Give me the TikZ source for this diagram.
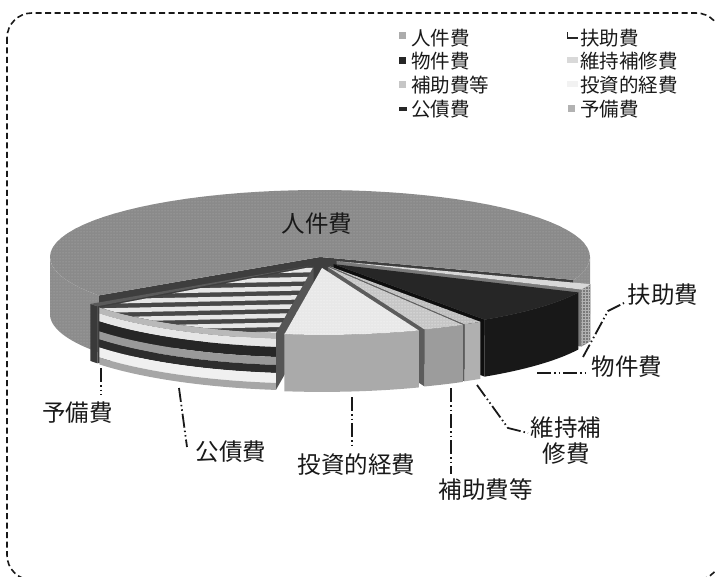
\documentclass[tikz,border=0pt]{standalone}
\usepackage{fontspec}
\newfontfamily\jp{Noto Sans CJK JP}
\usetikzlibrary{patterns}
\definecolor{jkTop}{HTML}{8A8A8A}
\definecolor{jkDot}{HTML}{B2B2B2}
\definecolor{jkWall}{HTML}{8C8C8C}
\definecolor{sideC}{HTML}{3E3E3E}
\definecolor{koSide}{HTML}{555555}
\definecolor{fuTop}{HTML}{D8D8D8}
\definecolor{fuWall}{HTML}{7A7A7A}
\definecolor{yoTop}{HTML}{5A5A5A}
\definecolor{yoWall}{HTML}{3A3A3A}
\definecolor{koBase}{HTML}{474747}
\definecolor{koStripe}{HTML}{E6E6E6}
\definecolor{bkTop}{HTML}{262626}
\definecolor{bkWall}{HTML}{181818}
\definecolor{bkSide}{HTML}{0E0E0E}
\definecolor{ijTop}{HTML}{BDBDBD}
\definecolor{ijWall}{HTML}{B0B0B0}
\definecolor{hoTop}{HTML}{C6C6C6}
\definecolor{hoWall}{HTML}{9C9C9C}
\definecolor{hoSide}{HTML}{5C5C5C}
\definecolor{tsTop}{HTML}{E8E8E8}
\definecolor{tsWall}{HTML}{AAAAAA}
\def\cx{320}\def\cy{257}\def\ra{270}\def\rb{67}\def\hh{57}
\newcommand\topface[3]{%
  \fill[#3] (\cx,\cy) -- plot[domain=#1:#2,samples=60] ({\cx+\ra*cos(\x)},{\cy+\rb*sin(\x)}) -- cycle;}
\newcommand\wallband[5]{%
  \fill[#5] plot[domain=#1:#2,samples=60] ({\cx+\ra*cos(\x)},{\cy+#3+\rb*sin(\x)}) -- plot[domain=#2:#1,samples=60] ({\cx+\ra*cos(\x)},{\cy+#4+\rb*sin(\x)}) -- cycle;}
\newcommand\sideface[2]{%
  \fill[#2] (\cx,\cy) -- ({\cx+\ra*cos(#1)},{\cy+\rb*sin(#1)}) -- ({\cx+\ra*cos(#1)},{\cy+\hh+\rb*sin(#1)}) -- (\cx,{\cy+\hh}) -- cycle;}
\begin{document}
\begin{tikzpicture}[x=1pt,y=-1pt,
  lbl/.style={font=\jp\fontsize{23.5}{26}\selectfont, inner sep=0pt, text=black!90},
  legtxt/.style={font=\jp\fontsize{19.5}{22}\selectfont, inner sep=0pt, anchor=west, text=black!90},
  legbox/.style={inner sep=0pt, minimum width=7pt, minimum height=7pt},
  leader/.style={line width=1.8pt, black!90, dash pattern=on 14pt off 3pt on 1.5pt off 3pt on 1.5pt off 3pt},
  frame/.style={line width=1.6pt, black!90, dash pattern=on 6pt off 3.5pt, rounded corners=25pt}]
\useasboundingbox (0,0) rectangle (715,577);
\draw[frame] (7,13) rectangle (721,580);

% --- 人件費 (main, not exploded)
\sideface{145}{fill=sideC}
\sideface{380}{fill=sideC}
\wallband{145}{180}{0}{\hh}{fill=jkWall, postaction={pattern=dots, pattern color=jkDot}}
\wallband{360}{380}{0}{\hh}{fill=jkWall, postaction={pattern=dots, pattern color=jkDot}}
\topface{145}{380}{fill=jkTop, postaction={pattern=dots, pattern color=jkDot}}

% --- 扶助費
\begin{scope}[shift={(16.6,4.2)}]
  \sideface{25}{fill=fuWall}
  \wallband{20}{25}{0}{\hh}{fill=fuWall, postaction={pattern=grid, pattern color=gray!60}}
  \topface{20}{25}{fill=fuTop}
\end{scope}

% --- 予備費
\begin{scope}[shift={(-8.5,8.5)}]
  \sideface{142.5}{fill=sideC}
  \wallband{142.5}{145}{0}{\hh}{fill=yoWall}
  \topface{142.5}{145}{fill=yoTop}
\end{scope}

% --- 公債費 (striped)
\begin{scope}[shift={(-6.5,9.6)}]
  \sideface{98}{fill=koSide}
  \wallband{98}{142.5}{0}{6}{fill=gray!55}
  \wallband{98}{142.5}{6}{14}{fill=koStripe}
  \wallband{98}{142.5}{14}{24}{fill=gray!30!black}
  \wallband{98}{142.5}{24}{32}{fill=gray!80}
  \wallband{98}{142.5}{32}{40}{fill=gray!35!black}
  \wallband{98}{142.5}{40}{50}{fill=gray!12}
  \wallband{98}{142.5}{50}{\hh}{fill=gray!70}
  \begin{scope}
    \clip (\cx,\cy) -- plot[domain=98:142.5,samples=60] ({\cx+\ra*cos(\x)},{\cy+\rb*sin(\x)}) -- cycle;
    \fill[koBase] (0,240) rectangle (400,340);
    \foreach \yy in {263,272,281,290,299,308,317,326}
      \draw[koStripe, line width=4.5pt] (60,{\yy+3}) -- (340,{\yy-3});
  \end{scope}
\end{scope}

% --- 物件費
\begin{scope}[shift={(13.7,7.1)}]
  \sideface{56}{fill=bkSide}
  \wallband{25}{56}{0}{\hh}{fill=bkWall}
  \topface{25}{56}{fill=bkTop}
\end{scope}

% --- 維持補修費
\begin{scope}[shift={(9.5,9.3)}]
  \sideface{60}{fill=hoSide}
  \wallband{56}{60}{0}{\hh}{fill=ijWall}
  \topface{56}{60}{fill=ijTop, postaction={pattern=dots, pattern color=white}}
\end{scope}

% --- 補助費等
\begin{scope}[shift={(7.8,9.9)}]
  \sideface{69}{fill=hoSide}
  \wallband{60}{69}{0}{\hh}{fill=hoWall}
  \topface{60}{69}{fill=hoTop, postaction={pattern=dots, pattern color=white}}
\end{scope}

% --- 投資的経費
\begin{scope}[shift={(2.0,10.9)}]
  \wallband{69}{98}{0}{\hh}{fill=tsWall}
  \topface{69}{98}{fill=tsTop, postaction={pattern=dots, pattern color=white}}
\end{scope}

% --- labels
\node[lbl] (tJ) at (317,224) {人件費};
\node[lbl] (tF) at (663,295) {扶助費};
\node[lbl] (tB) at (627,367) {物件費};
\node[lbl, align=center] (tI) at (566,441) {維持補\\修費};
\node[lbl] (tH) at (485.5,490) {補助費等};
\node[lbl] (tT) at (356.5,465) {投資的経費};
\node[lbl] (tK) at (231,452) {公債費};
\node[lbl] (tY) at (77.5,413) {予備費};

% --- leader lines
\coordinate (sF) at (583,357); \coordinate (kF) at (608,311); \coordinate (eF) at (624,303);
\coordinate (sB) at (537,373); \coordinate (eB) at (588,373);
\coordinate (sI) at (477,385); \coordinate (kI) at (508,428); \coordinate (eI) at (528,433);
\coordinate (sH) at (451,388); \coordinate (eH) at (451,474);
\coordinate (sT) at (352,397); \coordinate (eT) at (352,448);
\coordinate (sK) at (179,388); \coordinate (eK) at (187,447);
\coordinate (sY) at (101,368); \coordinate (eY) at (101,395);
\draw[leader] (sF) -- (kF) -- (eF);
\draw[leader] (sB) -- (eB);
\draw[leader] (sI) -- (kI) -- (eI);
\draw[leader] (sH) -- (eH);
\draw[leader] (sT) -- (eT);
\draw[leader] (sK) -- (eK);
\draw[leader] (sY) -- (eY);

% --- legend
\node[legbox, fill=gray!65] (m1) at (402.5,36) {};
\node[legtxt] (g1) at (411,38) {人件費};
\node[legbox, fill=black!85] (m2) at (402.5,60.5) {};
\node[legtxt] (g2) at (411,61.5) {物件費};
\node[legbox, fill=gray!45] (m3) at (402.5,84.5) {};
\node[legtxt] (g3) at (411,85.5) {補助費等};
\node[inner sep=0pt, minimum width=8pt, minimum height=3.5pt, fill=gray!30!black] (m4) at (403,109) {};
\node[legtxt] (g4) at (411,109) {公債費};
\draw[line width=1.4pt, black!85] (567.5,32.5) |- (578,38);
\node[legtxt] (g5) at (580,38) {扶助費};
\node[inner sep=0pt, minimum width=11pt, minimum height=6pt, fill=gray!30] (m6) at (572.5,60) {};
\node[legtxt] (g6) at (580,61.5) {維持補修費};
\node[inner sep=0pt, minimum width=11pt, minimum height=6pt, fill=gray!10] (m7) at (572,84.5) {};
\node[legtxt] (g7) at (580,85.5) {投資的経費};
\node[legbox, fill=gray!60] (m8) at (571,108.5) {};
\node[legtxt] (g8) at (580,109) {予備費};
\end{tikzpicture}
\end{document}
